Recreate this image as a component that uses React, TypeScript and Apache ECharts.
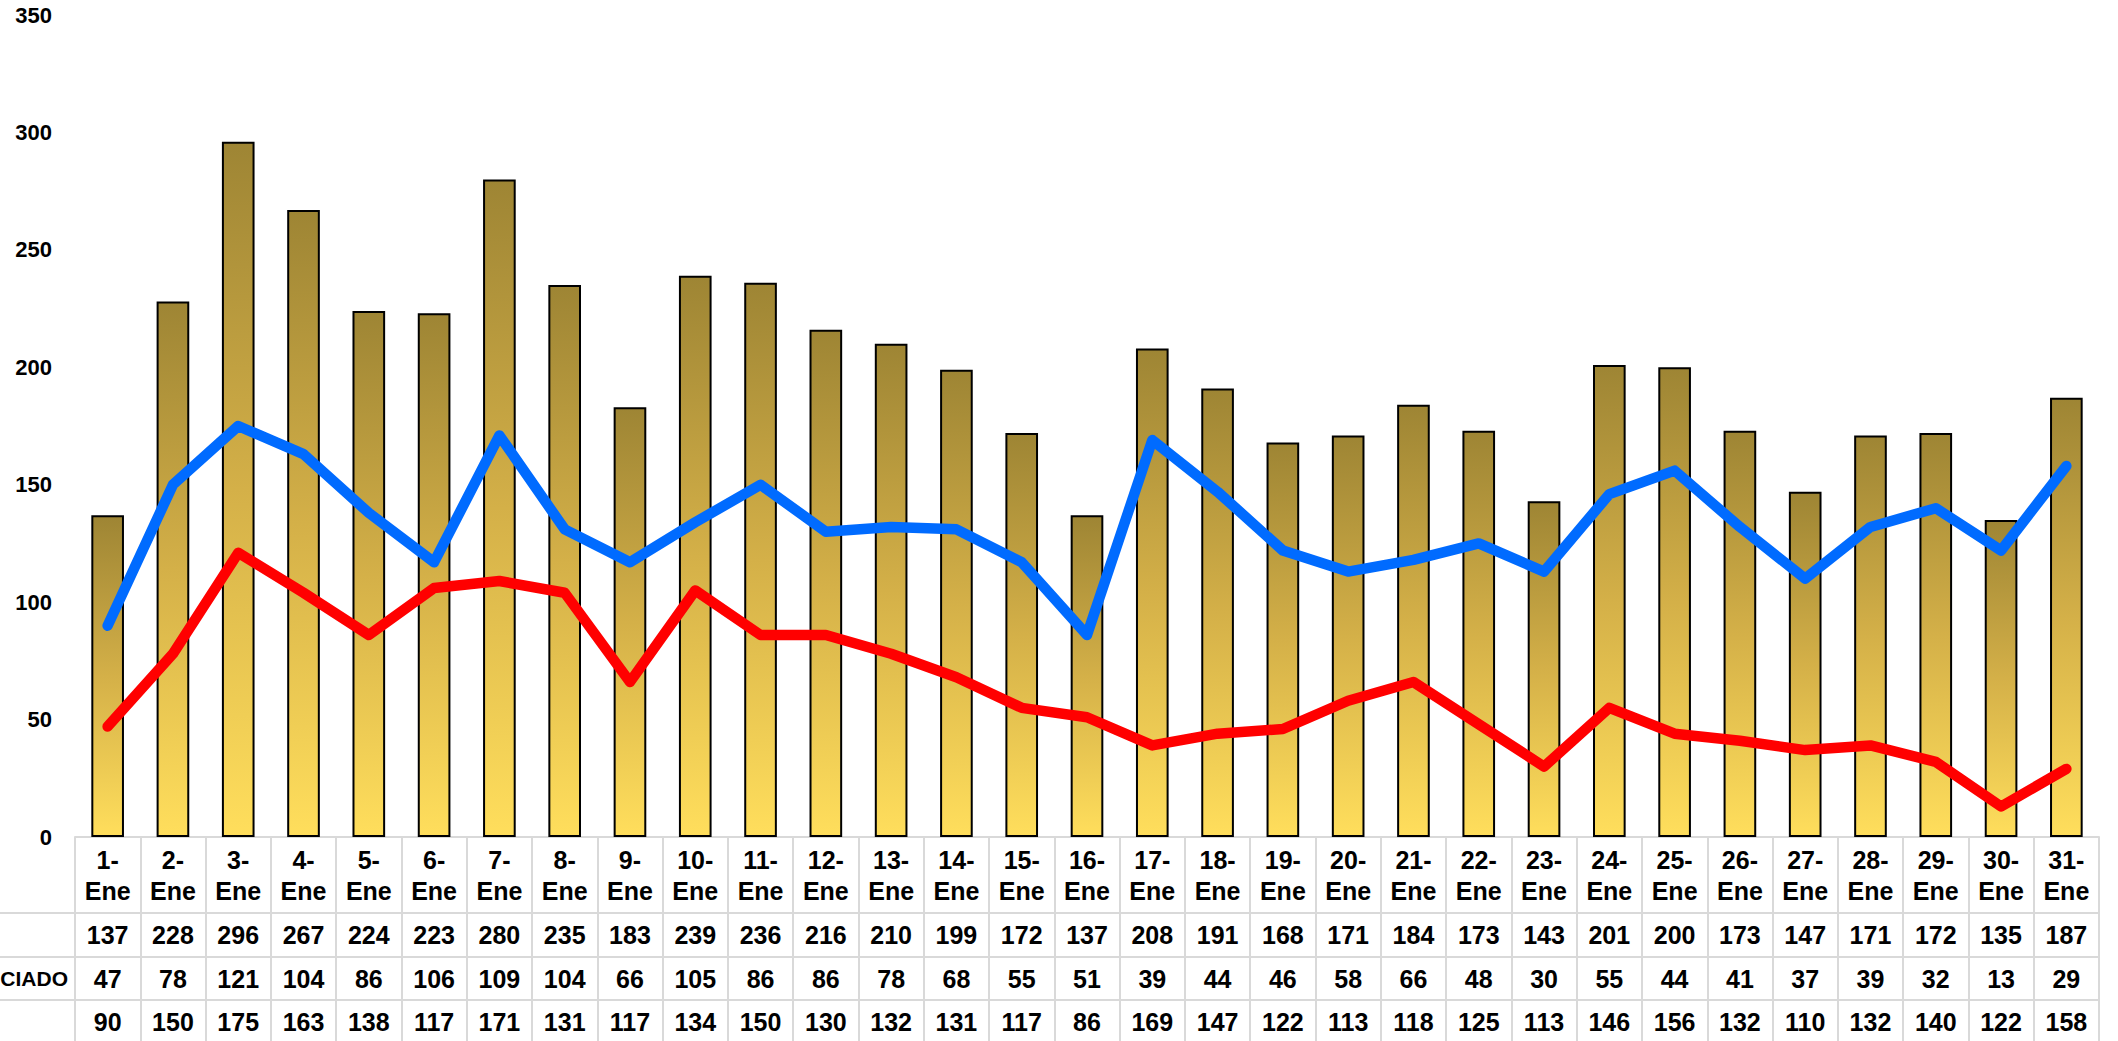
import React, { useEffect, useRef } from "react";
import * as echarts from "echarts";

const categories = [
  "1-Ene","2-Ene","3-Ene","4-Ene","5-Ene","6-Ene","7-Ene","8-Ene","9-Ene","10-Ene",
  "11-Ene","12-Ene","13-Ene","14-Ene","15-Ene","16-Ene","17-Ene","18-Ene","19-Ene","20-Ene",
  "21-Ene","22-Ene","23-Ene","24-Ene","25-Ene","26-Ene","27-Ene","28-Ene","29-Ene","30-Ene","31-Ene",
];
const barValues = [137,228,296,267,224,223,280,235,183,239,236,216,210,199,172,137,208,191,168,171,184,173,143,201,200,173,147,171,172,135,187];
const redValues = [47,78,121,104,86,106,109,104,66,105,86,86,78,68,55,51,39,44,46,58,66,48,30,55,44,41,37,39,32,13,29];
const blueValues = [90,150,175,163,138,117,171,131,117,134,150,130,132,131,117,86,169,147,122,113,118,125,113,146,156,132,110,132,140,122,158];
const redRowLabel = "CIADO";
const yMin = 0;
const yMax = 350;
const yInterval = 50;

const FONT = "Liberation Sans";
const GRID_COLOR = "#D9D9D9";

export default function App() {
  const ref = useRef<HTMLDivElement>(null);
  useEffect(() => {
    if (!ref.current) return;
    const chart = echarts.init(ref.current, undefined, { renderer: "svg" });
    const gridLeft = 75;
    const gridBottomY = 837;
    const H = 1041;
    const rowOffsets = [0, 76, 120, 163];
    const rowHeights = [76, 44, 43, 44];

    const baseAxis = (idx: number, formatter: (v: string, i: number) => string) => ({
      type: "category",
      data: categories,
      position: "bottom",
      offset: rowOffsets[idx],
      boundaryGap: true,
      axisLine: { show: true, lineStyle: { color: GRID_COLOR, width: 2 } },
      axisTick: idx === 0
        ? { show: true, interval: 0, length: H - gridBottomY, lineStyle: { color: GRID_COLOR, width: 2 } }
        : { show: false },
      axisLabel: {
        show: true,
        interval: 0,
        margin: rowHeights[idx] / 2,
        verticalAlign: "middle",
        fontFamily: FONT,
        fontWeight: "bold",
        fontSize: 25,
        lineHeight: 31,
        color: "#000",
        formatter,
      },
      splitLine: { show: false },
    });

    const option: any = {
      animation: false,
      backgroundColor: "#fff",
      grid: { left: gridLeft, right: 19, top: 15, bottom: H - gridBottomY, containLabel: false },
      xAxis: [
        baseAxis(0, (v: string) => v.replace("-", "-\n")),
        baseAxis(1, (_v: string, i: number) => String(barValues[i])),
        baseAxis(2, (_v: string, i: number) => String(redValues[i])),
        baseAxis(3, (_v: string, i: number) => String(blueValues[i])),
      ],
      yAxis: {
        type: "value",
        min: yMin,
        max: yMax,
        interval: yInterval,
        axisLine: { show: false },
        axisTick: { show: false },
        splitLine: { show: false },
        axisLabel: {
          margin: 23,
          fontFamily: FONT,
          fontWeight: "bold",
          fontSize: 22,
          color: "#000",
        },
      },
      series: [
        {
          type: "bar",
          data: barValues,
          xAxisIndex: 0,
          barWidth: "50%",
          itemStyle: {
            color: new echarts.graphic.LinearGradient(0, 0, 0, 1, [
              { offset: 0, color: "#9E8534" },
              { offset: 0.5, color: "#D4B048" },
              { offset: 1, color: "#FFDE5C" },
            ]),
            borderColor: "#000",
            borderWidth: 2,
          },
        },
        {
          type: "line",
          data: redValues,
          xAxisIndex: 0,
          symbol: "none",
          lineStyle: { color: "#FF0000", width: 10.5, cap: "round", join: "round" },
          z: 3,
        },
        {
          type: "line",
          data: blueValues,
          xAxisIndex: 0,
          symbol: "none",
          lineStyle: { color: "#006BFF", width: 10.5, cap: "round", join: "round" },
          z: 4,
        },
      ],
      graphic: [
        { type: "line", shape: { x1: 0, y1: 913, x2: gridLeft, y2: 913 }, style: { stroke: GRID_COLOR, lineWidth: 2 } },
        { type: "line", shape: { x1: 0, y1: 957, x2: gridLeft, y2: 957 }, style: { stroke: GRID_COLOR, lineWidth: 2 } },
        { type: "line", shape: { x1: 0, y1: 1000, x2: gridLeft, y2: 1000 }, style: { stroke: GRID_COLOR, lineWidth: 2 } },
        {
          type: "text",
          x: 68,
          y: 978,
          style: {
            text: redRowLabel,
            fontFamily: FONT,
            fontWeight: "bold",
            fontSize: 21,
            fill: "#000",
            align: "right",
            verticalAlign: "middle",
          },
        },
      ],
    };
    chart.setOption(option);
    return () => chart.dispose();
  }, []);
  return (
    <div
      ref={ref}
      style={{ position: "absolute", left: 0, top: 0, width: 2118, height: 1041 }}
    />
  );
}
